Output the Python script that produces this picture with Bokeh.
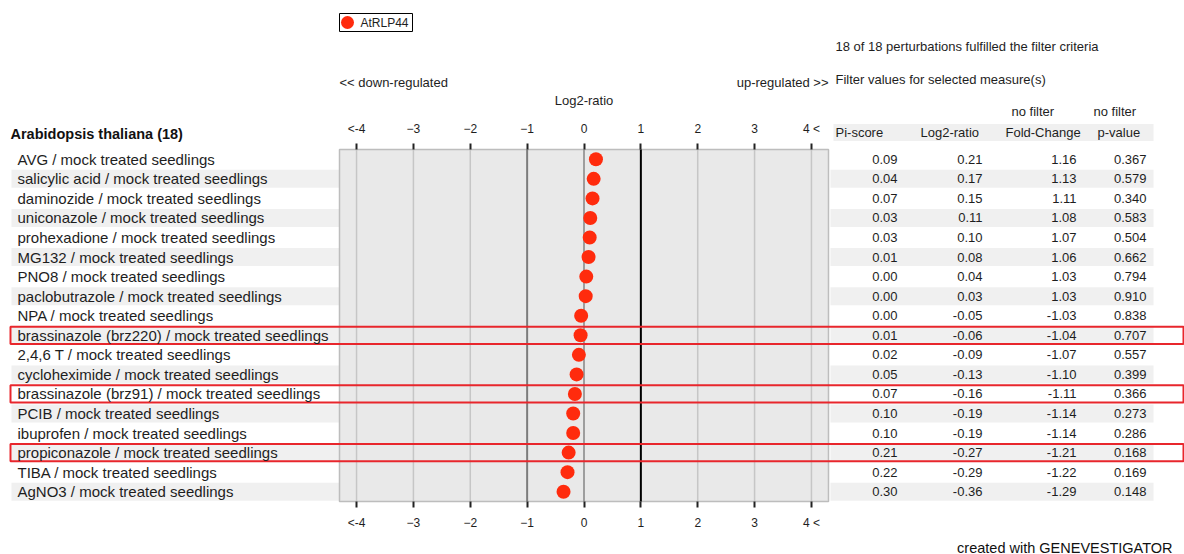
from bokeh.plotting import figure
from bokeh.models import Range1d, FixedTicker, LinearAxis, ColumnDataSource
from bokeh.embed import file_html
from bokeh.resources import INLINE
from bokeh.core.properties import value

# ---------------- data ----------------
treatments = ["AVG", "salicylic acid", "daminozide", "uniconazole", "prohexadione",
              "MG132", "PNO8", "paclobutrazole", "NPA", "brassinazole (brz220)",
              "2,4,6 T", "cycloheximide", "brassinazole (brz91)", "PCIB", "ibuprofen",
              "propiconazole", "TIBA", "AgNO3"]
control = "mock treated seedlings"
pi_score = [0.09, 0.04, 0.07, 0.03, 0.03, 0.01, 0.00, 0.00, 0.00, 0.01, 0.02, 0.05,
            0.07, 0.10, 0.10, 0.21, 0.22, 0.30]
log2_ratio = [0.21, 0.17, 0.15, 0.11, 0.10, 0.08, 0.04, 0.03, -0.05, -0.06, -0.09,
              -0.13, -0.16, -0.19, -0.19, -0.27, -0.29, -0.36]
fold_change = [1.16, 1.13, 1.11, 1.08, 1.07, 1.06, 1.03, 1.03, -1.03, -1.04, -1.07,
               -1.10, -1.11, -1.14, -1.14, -1.21, -1.22, -1.29]
p_value = [0.367, 0.579, 0.340, 0.583, 0.504, 0.662, 0.794, 0.910, 0.838, 0.707,
           0.557, 0.399, 0.366, 0.273, 0.286, 0.168, 0.169, 0.148]
highlighted = ["brassinazole (brz220)", "brassinazole (brz91)", "propiconazole"]
gene = "AtRLP44"
organism = "Arabidopsis thaliana"
x_ticks = [-4, -3, -2, -1, 0, 1, 2, 3, 4]
tick_text = {-4: "<-4", 4: "4 <"}
column_headers = ["Pi-score", "Log2-ratio", "Fold-Change", "p-value"]
filter_labels = ["no filter", "no filter"]

# ---------------- layout constants (canvas pixels) ----------------
FONT = "Liberation Sans"
TXT = "#1e1e1e"
RED = "#e8262c"
DOT = "#ff2b0d"
STRIPE = "#f0f0f0"
W, H = 1184, 554
XL, XR = 339, 828          # plot area left / right
TOP, BOT = 149, 501        # plot area top / bottom
XMIN, XMAX = -4.3, 4.3
N = len(treatments)
ROWH = (BOT - TOP) / N
PXU = (XR - XL) / (XMAX - XMIN)


def ry(py):
    """canvas y pixel -> row coordinate"""
    return (py - TOP) / ROWH - 0.5


rows = list(range(N))
src = ColumnDataSource(dict(
    row=rows,
    label=[f"{t} / {control}" for t in treatments],
    log2=log2_ratio,
    pi=[f"{v:.2f}" for v in pi_score],
    l2=[f"{v:.2f}" for v in log2_ratio],
    fc=[f"{v:.2f}" for v in fold_change],
    pv=[f"{v:.3f}" for v in p_value],
))
stripe_rows = [i for i in rows if i % 2 == 1]
hl_rows = [treatments.index(t) for t in highlighted]
special = {-1: "#7c7c7c", 0: "#9e9e9e", 1: "#000000"}
grid_src = ColumnDataSource(dict(
    x=x_ticks,
    color=[special.get(t, "#c6c6c6") for t in x_ticks],
    width=[2 if t in special else 1.5 for t in x_ticks],
))

p = figure(width=W, height=H, x_range=Range1d(0, W), y_range=Range1d(ry(H), ry(0)),
           x_axis_location=None, y_axis_location=None, toolbar_location=None,
           output_backend="svg", min_border=0, outline_line_color=None)
p.xgrid.visible = False
p.ygrid.visible = False
p.extra_x_ranges = {"log2": Range1d(XMIN - XL / PXU, XMAX + (W - XR) / PXU)}

txt = dict(text_font=value(FONT), text_baseline="middle", text_color=TXT)

# row stripes (label column and table)
p.hbar(y=stripe_rows, left=11, right=XL, height=0.92, fill_color=STRIPE, line_color=None)
p.hbar(y=stripe_rows, left=830, right=1153, height=0.92, fill_color=STRIPE,
       line_color=None)

# plot area
p.quad(left=XMIN, right=XMAX, top=-0.5, bottom=N - 0.5, x_range_name="log2",
       fill_color="#e9e9e9", line_color="#bdbdbd", line_width=1.5)
p.segment(x0="x", x1="x", y0=-0.5, y1=N - 0.5, source=grid_src, x_range_name="log2",
          line_color="color", line_width="width")

for loc, side in ((-0.5, "above"), (N - 0.5, "below")):
    ax = LinearAxis(x_range_name="log2", fixed_location=loc,
                    ticker=FixedTicker(ticks=x_ticks), major_label_overrides=tick_text,
                    axis_line_color=None, major_tick_in=0, major_tick_out=6,
                    major_tick_line_color="#222222", major_tick_line_width=2,
                    minor_tick_line_color=None, major_label_standoff=8,
                    major_label_text_font=FONT, major_label_text_font_size="12px",
                    major_label_text_color=TXT)
    p.add_layout(ax, side)

# highlight boxes
p.hbar(y=hl_rows, left=10, right=1183, height=0.88, fill_color=None,
       line_color=RED, line_width=2)

# data points
p.scatter(x="log2", y="row", source=src, x_range_name="log2", size=14,
          fill_color=DOT, line_color=None)

# row labels and title
p.text(x=17, y="row", text="label", source=src, text_font_size="15px", **txt)
p.text(x=[10], y=[ry(133)], text=[f"{organism} ({N})"], text_font_size="14.5px",
       text_font_style="bold", text_font=value(FONT), text_baseline="middle",
       text_color="#111111")

# plot headers
p.text(x=[XMIN], y=[ry(82)], text=["<< down-regulated"], x_range_name="log2",
       text_align="left", text_font_size="13px", **txt)
p.text(x=[XMAX], y=[ry(82)], text=["up-regulated >>"], x_range_name="log2",
       text_align="right", text_font_size="13px", **txt)
p.text(x=[0], y=[ry(100)], text=["Log2-ratio"], x_range_name="log2",
       text_align="center", text_font_size="13px", **txt)

# legend
p.quad(left=XL, right=412, top=ry(13), bottom=ry(31), fill_color="white",
       line_color="black", line_width=1)
p.scatter(x=[347], y=[ry(22)], size=13, fill_color=DOT, line_color=None)
p.text(x=[360], y=[ry(22)], text=[gene], text_font_size="12px", **txt)

# table
p.hbar(y=[ry(132)], left=833, right=1153, height=17 / ROWH, fill_color=STRIPE,
       line_color=None)
p.text(x=[835], y=[ry(46)],
       text=[f"{N} of {N} perturbations fulfilled the filter criteria"],
       text_font_size="13px", **txt)
p.text(x=[835], y=[ry(79)], text=["Filter values for selected measure(s)"],
       text_font_size="13px", **txt)
p.text(x=[1011, 1093], y=[ry(111)] * 2, text=filter_labels, text_font_size="13px",
       **txt)
p.text(x=[835, 920, 1005, 1097], y=[ry(132)] * 4, text=column_headers,
       text_font_size="13px", **txt)
for col, xr in (("pi", 897), ("l2", 982), ("fc", 1076), ("pv", 1146)):
    p.text(x=xr, y="row", text=col, source=src, text_align="right",
           text_font_size="13px", **txt)

p.text(x=[1172], y=[ry(547)], text=["created with GENEVESTIGATOR"], text_align="right",
       text_font_size="14.5px", text_font=value(FONT), text_baseline="middle",
       text_color="#111111")

open("out.html", "w").write(file_html(p, INLINE))
